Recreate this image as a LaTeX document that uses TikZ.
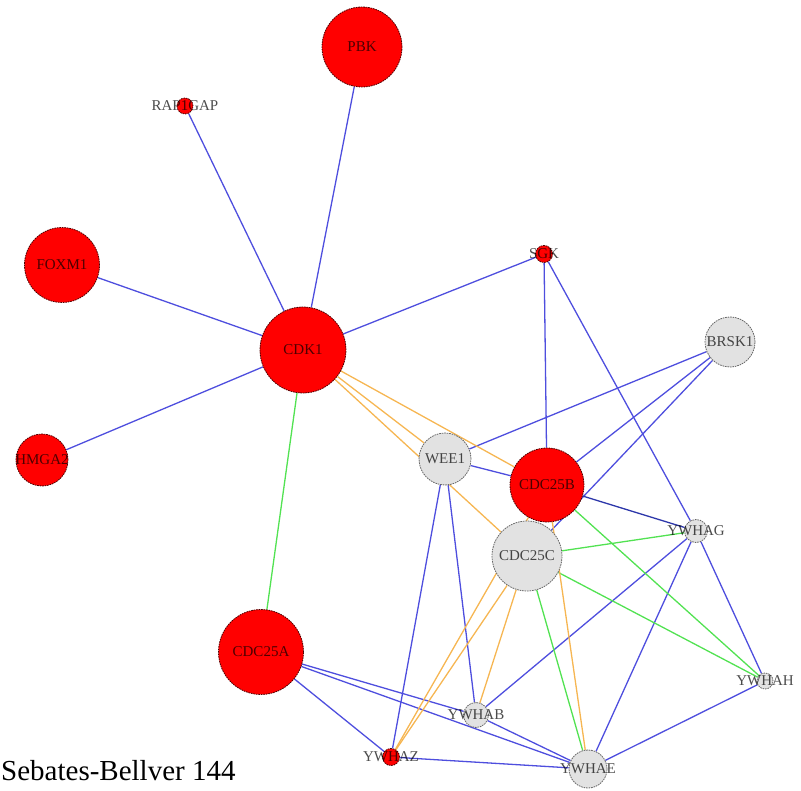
\documentclass[tikz,border=0pt]{standalone}
\usepackage{fontspec}
\setmainfont{Liberation Serif}
\usetikzlibrary{backgrounds}

\definecolor{hitred}{RGB}{255,0,0}
\definecolor{othergray}{RGB}{226,226,226}
\definecolor{ppiblue}{RGB}{78,78,222}
\definecolor{ppinavy}{RGB}{45,55,170}
\definecolor{ppiorange}{RGB}{246,182,82}
\definecolor{ppigreen}{RGB}{82,226,82}

\tikzset{
  gene/.style={circle, inner sep=0pt, minimum size=#1, line width=0.8pt,
               dash pattern=on 1.6pt off 0.9pt},
  hit/.style={gene=#1, fill=hitred, draw=black!70!hitred},
  other/.style={gene=#1, fill=othergray, draw=black!60},
  lab/.style={font=\fontsize{15}{15}\selectfont, text=black, text opacity=0.7, inner sep=0pt},
  bluelink/.style={draw=ppiblue, line width=1.3pt},
  navylink/.style={draw=ppinavy, line width=1.3pt},
  orangelink/.style={draw=ppiorange, line width=1.3pt},
  greenlink/.style={draw=ppigreen, line width=1.3pt},
}

\begin{document}
\begin{tikzpicture}[x=1pt,y=-1pt]
\useasboundingbox (0,0) rectangle (801,791);

% proteins
\node[hit=80pt,   label={[lab]center:PBK}]     (pbk)    at (362,47)  {};
\node[hit=16pt,   label={[lab]center:RAP1GAP}] (rap)    at (185,106) {};
\node[hit=75pt,   label={[lab]center:FOXM1}]   (foxm1)  at (62,265)  {};
\node[hit=86pt,   label={[lab]center:CDK1}]    (cdk1)   at (303,350) {};
\node[hit=52pt,   label={[lab]center:HMGA2}]   (hmga2)  at (42,460)  {};
\node[hit=17pt,   label={[lab]center:SGK}]     (sgk)    at (544,254) {};
\node[other=50pt, label={[lab]center:BRSK1}]   (brsk1)  at (730,342) {};
\node[other=52pt, label={[lab]center:WEE1}]    (wee1)   at (445,459) {};
\node[hit=74pt,   label={[lab]center:CDC25B}]  (cdc25b) at (547,485) {};
\node[other=70pt, label={[lab]center:CDC25C}]  (cdc25c) at (527,556) {};
\node[other=23pt, label={[lab]center:YWHAG}]   (ywhag)  at (696,531) {};
\node[hit=85pt,   label={[lab]center:CDC25A}]  (cdc25a) at (261,652) {};
\node[other=16pt, label={[lab]center:YWHAH}]   (ywhah)  at (765,681) {};
\node[other=25pt, label={[lab]center:YWHAB}]   (ywhab)  at (476,715) {};
\node[hit=17pt,   label={[lab]center:YWHAZ}]   (ywhaz)  at (391,757) {};
\node[other=38pt, label={[lab]center:YWHAE}]   (ywhae)  at (588,769) {};

% interactions
\begin{scope}[on background layer]
  \draw[bluelink] (cdk1) -- (pbk);
  \draw[bluelink] (cdk1) -- (rap);
  \draw[bluelink] (cdk1) -- (foxm1);
  \draw[bluelink] (cdk1) -- (hmga2);
  \draw[bluelink] (cdk1) -- (sgk);
  \draw[bluelink] (sgk) -- (cdc25b);
  \draw[bluelink] (sgk) -- (ywhag);
  \draw[bluelink] (ywhag) -- (ywhah);
  \draw[bluelink] (brsk1) -- (wee1);
  \draw[bluelink] (brsk1) -- (cdc25b);
  \draw[bluelink] (brsk1) -- (cdc25c);
  \draw[bluelink] (wee1) -- (cdc25b);
  \draw[bluelink] (wee1) -- (ywhaz);
  \draw[bluelink] (wee1) -- (ywhab);
  \draw[navylink] (cdc25b) -- (ywhag);
  \draw[bluelink] (ywhag) -- (ywhab);
  \draw[bluelink] (ywhag) -- (ywhae);
  \draw[bluelink] (ywhah) -- (ywhae);
  \draw[bluelink] (cdc25a) -- (ywhab);
  \draw[bluelink] (cdc25a) -- (ywhae);
  \draw[bluelink] (cdc25a) -- (ywhaz);
  \draw[bluelink] (ywhab) -- (ywhae);
  \draw[bluelink] (ywhaz) -- (ywhae);

  \draw[greenlink] (cdk1) -- (cdc25a);
  \draw[greenlink] (cdc25b) -- (ywhah);
  \draw[greenlink] (cdc25c) -- (ywhah);
  \draw[greenlink] (cdc25c) -- (ywhag);
  \draw[greenlink] (cdc25c) -- (ywhae);

  \draw[orangelink] (cdk1) -- (wee1);
  \draw[orangelink] (cdk1) -- (cdc25b);
  \draw[orangelink] (cdk1) -- (cdc25c);
  \draw[orangelink] (cdc25b) -- (ywhaz);
  \draw[orangelink] (cdc25c) -- (ywhaz);
  \draw[orangelink] (cdc25c) -- (ywhab);
  \draw[orangelink] (cdc25b) -- (ywhae);
\end{scope}

\node[anchor=base west, inner sep=0pt, font=\fontsize{29}{34}\selectfont] (caption) at (1,780) {Sebates-Bellver 144};
\end{tikzpicture}
\end{document}
